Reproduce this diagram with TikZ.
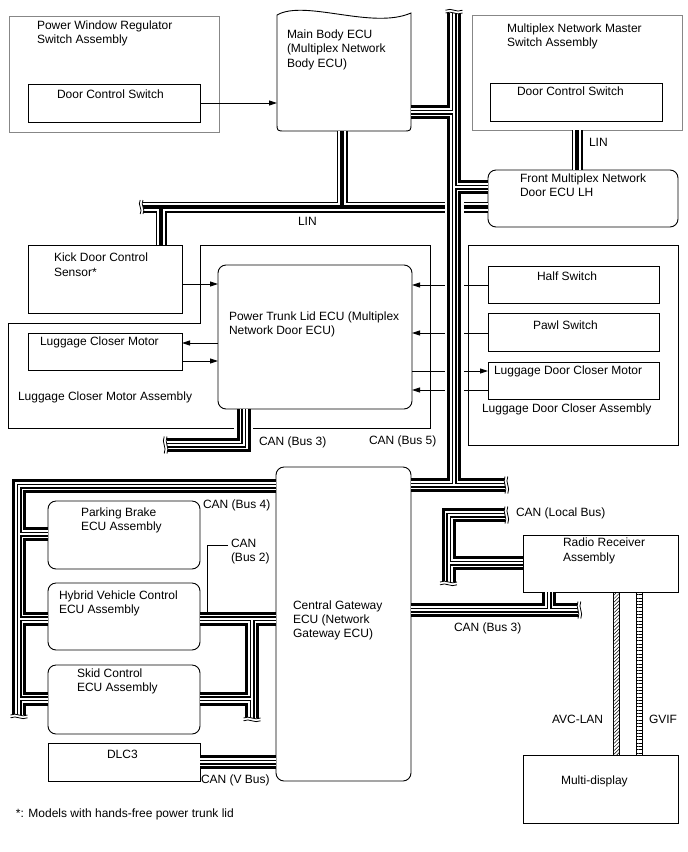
\documentclass[tikz,border=0pt]{standalone}
\usepackage{fontspec}
\setmainfont{Liberation Sans}
\usetikzlibrary{arrows.meta,patterns.meta,calc}
\definecolor{boxgray}{RGB}{135,135,135}
\tikzset{
 canA/.style={line width=14pt},
 canB/.style={white,line width=8pt},
 canC/.style={line width=5pt},
 canD/.style={white,line width=2pt},
 linA/.style={line width=11pt},
 linB/.style={white,line width=8pt},
 linC/.style={line width=4pt},
 brkline/.style={line width=0.8pt},
}
\newcommand\canbus[1]{\draw[canA] #1; \draw[canB] #1; \draw[canC] #1; \draw[canD] #1;}
\newcommand\linbus[1]{\draw[linA] #1; \draw[linB] #1; \draw[linC] #1;}
% break on a horizontal line end: X, Y, halfwidth, dir (+1 right end, -1 left end)
\newcommand\brkH[4]{%
 \fill[white] ({#1},{#2-#3-1.5}) .. controls ({#1-3},{#2-#3/3}) and ({#1+3},{#2+#3/3}) .. ({#1},{#2+#3+1.5}) -- ({#1+4*#4},{#2+#3+1.5}) -- ({#1+4*#4},{#2-#3-1.5}) -- cycle;
 \draw[brkline] ({#1},{#2-#3-1.5}) .. controls ({#1-3},{#2-#3/3}) and ({#1+3},{#2+#3/3}) .. ({#1},{#2+#3+1.5});
 \draw[brkline] ({#1+2.8*#4},{#2-#3-1.5}) .. controls ({#1+2.8*#4-3},{#2-#3/3}) and ({#1+2.8*#4+3},{#2+#3/3}) .. ({#1+2.8*#4},{#2+#3+1.5});
}
% break on a vertical line end: X, Y, halfwidth, dir (+1 bottom end, -1 top end)
\newcommand\brkV[4]{%
 \fill[white] ({#1-#3-1.5},{#2}) .. controls ({#1-#3/3},{#2-3}) and ({#1+#3/3},{#2+3}) .. ({#1+#3+1.5},{#2}) -- ({#1+#3+1.5},{#2+4*#4}) -- ({#1-#3-1.5},{#2+4*#4}) -- cycle;
 \draw[brkline] ({#1-#3-1.5},{#2}) .. controls ({#1-#3/3},{#2-3}) and ({#1+#3/3},{#2+3}) .. ({#1+#3+1.5},{#2});
 \draw[brkline] ({#1-#3-1.5},{#2+2.8*#4}) .. controls ({#1-#3/3},{#2+2.8*#4-3}) and ({#1+#3/3},{#2+2.8*#4+3}) .. ({#1+#3+1.5},{#2+2.8*#4});
}
\begin{document}
\begin{tikzpicture}[x=1pt,y=-1pt,
 every node/.style={inner sep=0pt,outer sep=0pt},
 tl/.style={anchor=base west,font=\fontsize{12}{14}\selectfont},
 bx/.style={draw,line width=0.9pt,anchor=north west},
 gbx/.style={draw=boxgray,line width=0.9pt,anchor=north west},
 rbx/.style={bx,rounded corners=8pt},
 arr/.style={line width=0.9pt,-{Triangle[length=8pt,width=5pt]}},
 lead/.style={line width=0.8pt}]
\useasboundingbox (0,0) rectangle (688,852);
% boxes
\node[gbx,minimum width=209.5pt,minimum height=116pt] (pwr) at (9.5,16) {};
\node[bx,minimum width=172pt,minimum height=38pt] (dcs1) at (28,84) {};
\node[anchor=north west,minimum width=134pt,minimum height=117pt] (mb) at (277,14) {};
\node[gbx,minimum width=210pt,minimum height=115pt] (mnm) at (472,15) {};
\node[bx,minimum width=172pt,minimum height=38pt] (dcs2) at (490,83) {};
\node[rbx,minimum width=190pt,minimum height=57pt] (fecu) at (488,170) {};
\node[bx,minimum width=154pt,minimum height=68pt] (kick) at (28,245) {};
\node[rbx,minimum width=194pt,minimum height=144pt] (ptl) at (218,265) {};
\node[bx,minimum width=154pt,minimum height=37pt] (lcm) at (28,333) {};
\node[bx,minimum width=210pt,minimum height=200pt] (ldca) at (468,245) {};
\node[bx,minimum width=171pt,minimum height=37pt] (half) at (488,266) {};
\node[bx,minimum width=171pt,minimum height=38pt] (pawl) at (488,313) {};
\node[bx,minimum width=171pt,minimum height=37pt] (ldcm) at (488,362) {};
\node[rbx,minimum width=135pt,minimum height=314pt] (gw) at (276,467) {};
\node[rbx,minimum width=152pt,minimum height=68pt] (pb) at (48,501) {};
\node[rbx,minimum width=152pt,minimum height=67pt] (hv) at (48,583) {};
\node[rbx,minimum width=152pt,minimum height=69pt] (skid) at (48,665) {};
\node[bx,minimum width=152pt,minimum height=38pt] (dlc) at (48,743) {};
\node[bx,minimum width=155pt,minimum height=57pt] (radio) at (523,535) {};
\node[bx,minimum width=155pt,minimum height=68pt] (md) at (523,755) {};
% main body ECU shape
\draw[line width=0.9pt] (277,15) .. controls (305,-1) and (372,30) .. (411,13) -- (411,123) .. controls (411,131) .. (403,131) -- (285,131) .. controls (277,131) .. (277,123) -- cycle;
% luggage closer motor assembly outline
\draw[line width=0.9pt] (234,428) -- (8,428) -- (8,323) -- (200,323) -- (200,245) -- (430,245) -- (430,428) -- (253,428);
% arrows
\draw[arr] (dcs1.east) -- (mb.west |- dcs1.east);
\draw[arr] (kick.east |- 0,284) -- (ptl.west |- 0,284);
\draw[arr] (ptl.west |- 0,343) -- (lcm.east |- 0,343);
\draw[arr] (lcm.east |- 0,361) -- (ptl.west |- 0,361);
\draw[arr] (half.west |- 0,285) -- (ptl.east |- 0,285);
\draw[arr] (pawl.west |- 0,333) -- (ptl.east |- 0,333);
\draw[arr] (ptl.east |- 0,371) -- (ldcm.west |- 0,371);
\draw[arr] (ldcm.west |- 0,390) -- (ptl.east |- 0,390);
% LIN
\linbus{(143,207) -- (fecu.west |- 0,207) (161,207) -- (kick.north -| 161,0) (342,207) -- (mb.south -| 342,0)}
\linbus{(mnm.south -| 577,0) -- (fecu.north -| 577,0)}
% halo for main bus crossing
\draw[white,line width=19pt] (454,14) -- (454,478);
% CAN buses
\canbus{(454,13) -- (454,485) (mb.east |- 0,112) -- (454,112) (454,187) -- (fecu.west |- 0,187) (gw.east |- 0,485) -- (505,485)}
\canbus{(gw.west |- 0,486) -- (19,486) -- (19,715) (19,534) -- (pb.west |- 0,534) (19,618.5) -- (hv.west |- 0,618.5) (19,698.5) -- (skid.west |- 0,698.5)}
\canbus{(hv.east |- 0,618.5) -- (gw.west |- 0,618.5) (252,618.5) -- (252,718) (skid.east |- 0,698.5) -- (252,698.5)}
\canbus{(dlc.east) -- (gw.west |- dlc.east)}
\canbus{(505,515) -- (448.5,515) -- (448.5,582) (448.5,563) -- (radio.west |- 0,563)}
\canbus{(gw.east |- 0,610) -- (578,610) (radio.south -| 549,0) -- (549,610)}
\canbus{(ptl.south -| 243.5,0) -- (243.5,445) -- (167,445)}
% break marks
\brkH{143}{207}{5.5}{-1}
\brkH{167}{445}{7}{-1}
\brkH{505}{485}{7}{1}
\brkH{505}{515}{7}{1}
\brkH{578}{610}{7}{1}
\brkV{454}{13}{7}{-1}
\brkV{19}{715}{7}{1}
\brkV{252}{718}{7}{1}
\brkV{448.5}{582}{7}{1}
% AVC-LAN / GVIF
\draw[line width=0.7pt,pattern={Lines[angle=45,distance=2.5pt,line width=0.5pt]}] (radio.south -| 613,0) rectangle (md.north -| 619.5,0);
\draw[line width=0.7pt,pattern={Lines[angle=0,distance=3.3pt,line width=0.6pt]}] (radio.south -| 636,0) rectangle (md.north -| 642.7,0);
% texts
\node[tl] (t1a) at (37,29.5) {Power Window Regulator};
\node[tl] (t1b) at (37,43.5) {Switch Assembly};
\node[tl] (t2) at (57,98.5) {Door Control Switch};
\node[tl] (t3a) at (287,38) {Main Body ECU};
\node[tl] (t3b) at (287,52.5) {(Multiplex Network};
\node[tl] (t3c) at (287,67) {Body ECU)};
\node[tl] (t4a) at (507,32.3) {Multiplex Network Master};
\node[tl] (t4b) at (507,46.5) {Switch Assembly};
\node[tl] (t5) at (517,95) {Door Control Switch};
\node[tl] (t6) at (589,146.7) {LIN};
\node[tl] (t7a) at (520,182.7) {Front Multiplex Network};
\node[tl] (t7b) at (520,196.7) {Door ECU LH};
\node[tl] (t8) at (298,225) {LIN};
\node[tl] (t9a) at (54,261.7) {Kick Door Control};
\node[tl] (t9b) at (54,276) {Sensor*};
\node[tl] (t10a) at (229,320.7) {Power Trunk Lid ECU (Multiplex};
\node[tl] (t10b) at (229,334.5) {Network Door ECU)};
\node[tl] (t11) at (40,345.7) {Luggage Closer Motor};
\node[tl] (t12) at (18,400.3) {Luggage Closer Motor Assembly};
\node[tl] (t13) at (537,280.7) {Half Switch};
\node[tl] (t14) at (533,329) {Pawl Switch};
\node[tl] (t15) at (494,374) {Luggage Door Closer Motor};
\node[tl] (t16) at (482,412.3) {Luggage Door Closer Assembly};
\node[tl] (t17) at (369,444.3) {CAN (Bus 5)};
\node[tl] (t18) at (259,445) {CAN (Bus 3)};
\node[tl] (t19) at (203,508.3) {CAN (Bus 4)};
\node[tl] (t20a) at (81,516) {Parking Brake};
\node[tl] (t20b) at (81,530.5) {ECU Assembly};
\node[tl] (tb2a) at (231,547.3) {CAN};
\node[tl] (tb2b) at (231,561.7) {(Bus 2)};
\node[tl] (t22a) at (59,599) {Hybrid Vehicle Control};
\node[tl] (t22b) at (59,613.3) {ECU Assembly};
\node[tl] (t23a) at (293,609.3) {Central Gateway};
\node[tl] (t23b) at (293,623.3) {ECU (Network};
\node[tl] (t23c) at (293,637.3) {Gateway ECU)};
\node[tl] (t24) at (516,516.7) {CAN (Local Bus)};
\node[tl] (t25a) at (563,546.7) {Radio Receiver};
\node[tl] (t25b) at (563,561) {Assembly};
\node[tl] (t26) at (454,631.7) {CAN (Bus 3)};
\node[tl] (t27a) at (77,677.7) {Skid Control};
\node[tl] (t27b) at (77,691.7) {ECU Assembly};
\node[tl] (t28) at (107,758.7) {DLC3};
\node[tl] (t29) at (201,783.3) {CAN (V Bus)};
\node[tl] (t30) at (16,817.3) {*: Models with hands-free power trunk lid};
\node[tl] (t31) at (552,723.3) {AVC-LAN};
\node[tl] (t32) at (649,723.3) {GVIF};
\node[tl] (t33) at (561,784) {Multi-display};
% leader for CAN (Bus 2)
\draw[lead] ([xshift=-3pt,yshift=-2.5pt]tb2a.west) -| (207,611.5);
\end{tikzpicture}
\end{document}
